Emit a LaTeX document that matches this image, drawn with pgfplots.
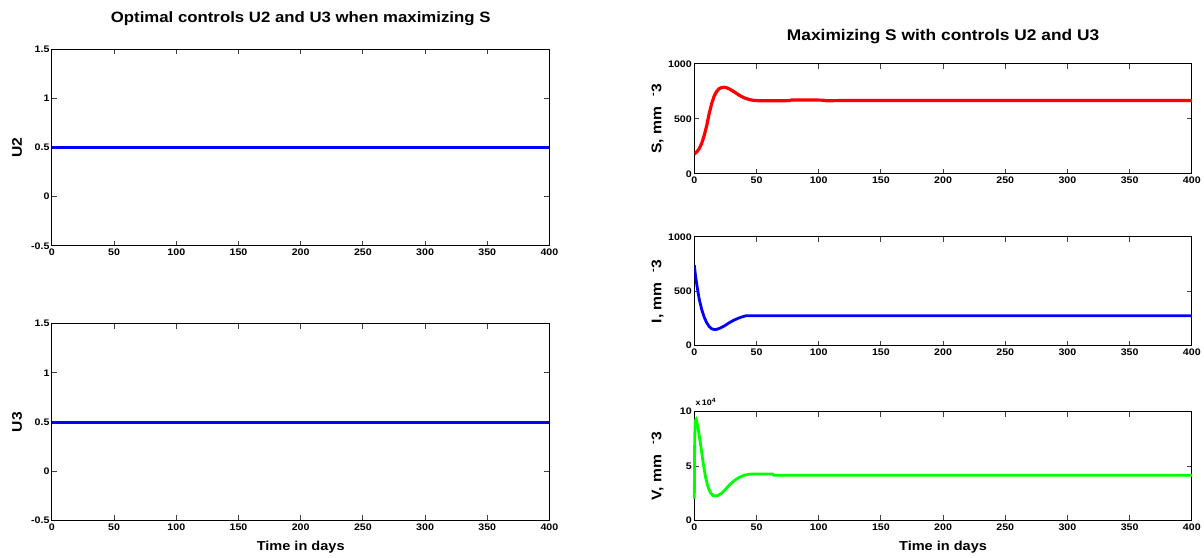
\documentclass[border=0pt]{standalone}
\usepackage{fontspec}
\setmainfont{Liberation Sans}[FakeStretch=1.12]
\usepackage{pgfplots}
\pgfplotsset{compat=1.18}

\pgfplotsset{
  mat/.style={
    scale only axis, width=498pt, anchor=south west,
    xmin=0, xmax=400, xtick={0,50,...,400},
    axis line style={black, line width=0.9pt},
    tick style={black!75, line width=0.9pt},
    major tick length=5pt,
    tick align=inside,
    xtick pos=both, ytick pos=both,
    /pgf/number format/assume math mode=true,
    /pgf/number format/1000 sep={},
    tick label style={font=\bfseries\fontsize{9.5}{10}\selectfont},
    xticklabel style={yshift=0pt},
    yticklabel style={xshift=1pt},
    every axis y label/.style={at={(axis description cs:-0.07,0.5)},rotate=90,anchor=center,font=\bfseries\fontsize{14}{15}\selectfont},
    every axis x label/.style={at={(axis description cs:0.5,0)},anchor=center,yshift=-27pt,font=\bfseries\fontsize{13}{14}\selectfont},
    every axis title/.style={at={(axis description cs:0.5,1)},anchor=center,font=\bfseries\fontsize{15}{16}\selectfont},
  }
}

\begin{document}
\begin{tikzpicture}[x=1pt,y=1pt]
\path (0,0) rectangle (1204,558);

% ---- left top: U2
\begin{axis}[mat, at={(52pt,312pt)}, height=197pt,
  ymin=-0.5, ymax=1.5, ytick={-0.5,0,0.5,1,1.5},
  ylabel={U2},
  title={Optimal controls U2 and U3 when maximizing S},
  title style={yshift=30pt}]
\addplot[blue, line width=3pt] coordinates {(0,0.5) (400,0.5)};
\end{axis}

% ---- left bottom: U3
\begin{axis}[mat, at={(52pt,37pt)}, height=197pt,
  ymin=-0.5, ymax=1.5, ytick={-0.5,0,0.5,1,1.5},
  ylabel={U3}, xlabel={Time in days}]
\addplot[blue, line width=3pt] coordinates {(0,0.5) (400,0.5)};
\end{axis}

% ---- right top: S
\begin{axis}[mat, at={(695pt,384pt)}, height=110pt,
  ymin=0, ymax=1000, ytick={0,500,1000},
  ylabel={S, mm\hspace{10pt}\textsuperscript{-}3},
  every axis y label/.append style={at={(axis description cs:-0.074,0.5)}},
  title={Maximizing S with controls U2 and U3},
  title style={yshift=27pt, font=\bfseries\fontsize{15.5}{16}\selectfont}]
\addplot[red, line width=3.2pt] coordinates {
(0,180) (2,200) (4,230) (6,280) (8,350) (10,440) (12,550) (14,640) (16,708)
(18,750) (20,775) (22,785) (24,788) (26,783) (28,773) (30,761) (33,739)
(36,716) (40,692) (44,676) (48,668) (50,666) (60,665) (76,666) (78,671)
(100,671) (104,670) (106,665) (120,667) (150,667) (200,667) (250,667)
(300,667) (350,667) (400,667)};
\end{axis}

% ---- right middle: I
\begin{axis}[mat, at={(695pt,212pt)}, height=109pt,
  ymin=0, ymax=1000, ytick={0,500,1000},
  ylabel={I, mm\hspace{10pt}\textsuperscript{-}3},
  every axis y label/.append style={at={(axis description cs:-0.074,0.5)}}]
\addplot[blue, line width=2.8pt] coordinates {
(0,740) (1,640) (2,560) (3,490) (4,425) (6,330) (8,260) (10,210) (12,175)
(14,155) (16,148) (18,150) (20,158) (24,180) (28,210) (32,235) (36,255)
(40,270) (42,275) (100,275) (200,275) (300,275) (400,275)};
\end{axis}

% ---- right bottom: V
\begin{axis}[mat, at={(695pt,37pt)}, height=109pt, clip=false,
  ymin=0, ymax=100000, ytick={0,50000,100000},
  yticklabels={0,5,10}, scaled y ticks=false,
  ylabel={V, mm\hspace{10pt}\textsuperscript{-}3},
  every axis y label/.append style={at={(axis description cs:-0.074,0.5)}},
  xlabel={Time in days}]
\addplot[green, line width=2.8pt] coordinates {
(0,20000) (0.3,75000) (0.8,92000) (1.5,93000) (3,85000) (5,70000) (7,54000)
(9,40000) (11,31000) (13,25500) (15,23000) (17,22500) (19,23000) (22,25000)
(25,28500) (28,32500) (32,36500) (36,39500) (40,41500) (44,42500) (50,42700)
(63,42700) (64,41500) (100,41500) (200,41500) (300,41500) (400,41500)};
\node[anchor=south west, inner sep=0pt, font=\bfseries\fontsize{8}{9}\selectfont]
  at (rel axis cs:0,1) [yshift=6pt, xshift=1pt] {x\,10\textsuperscript{\fontsize{6}{6}\selectfont 4}};
\end{axis}
\end{tikzpicture}
\end{document}
